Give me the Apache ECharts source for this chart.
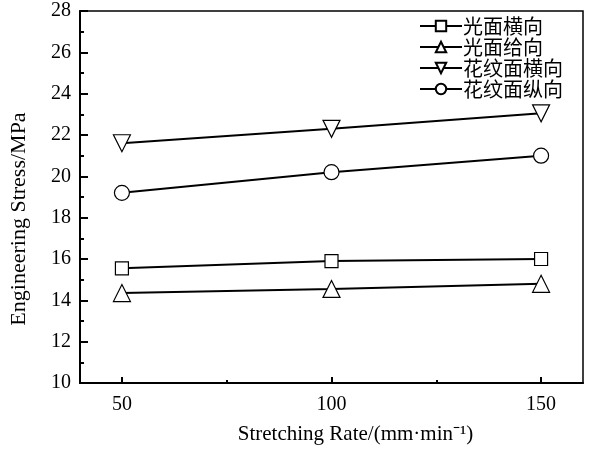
<!DOCTYPE html>
<html><head><meta charset="utf-8">
<script src="https://cdn.jsdelivr.net/npm/echarts@6/dist/echarts.min.js"></script>
<style>html,body{margin:0;padding:0;background:#fff}#c{width:593px;height:450px}</style>
</head><body><div id="c"></div>
<script>
const rates = [50, 100, 150];
const seriesNames = ['光面横向', '光面给向', '花纹面横向', '花纹面纵向'];
const smoothTransverse = [15.55, 15.9, 16.0];
const smoothFeed = [14.35, 14.55, 14.8];
const patternTransverse = [21.6, 22.3, 23.05];
const patternLongitudinal = [19.2, 20.2, 21.0];
const xMajorTicks = [50, 100, 150];
const xMinorTicks = [75, 125];

const serif = '"Liberation Serif", "Times New Roman", serif';
const symbols = ['rect', 'triangle', 'triangle', 'circle'];
const sizes = [13, 17, 17, 15];
const rotates = [0, 0, 180, 0];
const allData = [smoothTransverse, smoothFeed, patternTransverse, patternLongitudinal];

const chart = echarts.init(document.getElementById('c'));
chart.setOption({
  animation: false,
  backgroundColor: '#fff',
  grid: { left: 80, right: 10, top: 11, bottom: 64, show: true, borderColor: '#000', borderWidth: 1.5, backgroundColor: 'transparent' },
  legend: {
    orient: 'vertical', left: 414, top: 11, itemGap: 1, itemWidth: 42, itemHeight: 13,
    textStyle: { fontFamily: '"Noto Sans CJK SC", sans-serif', fontSize: 20, color: '#000', padding: [0,0,0,-4] },
    data: seriesNames
  },
  xAxis: [{
    type: 'value', min: 40, max: 160,
    axisLine: { lineStyle: { color: '#000', width: 2 } },
    axisTick: { inside: true, length: 6, customValues: xMajorTicks, lineStyle: { color: '#000', width: 2 } },
    axisLabel: { customValues: xMajorTicks, fontFamily: serif, fontSize: 20, color: '#000', margin: 12 },
    splitLine: { show: false },
    name: 'Stretching Rate/(mm·min⁻¹)', nameLocation: 'middle', nameGap: 41,
    nameTextStyle: { fontFamily: serif, fontSize: 21, color: '#000', padding: [0, 0, 0, 48] }
  }, {
    type: 'value', min: 40, max: 160, position: 'bottom',
    axisLine: { show: false },
    axisTick: { inside: true, length: 3, customValues: xMinorTicks, lineStyle: { color: '#000', width: 2 } },
    axisLabel: { show: false }, splitLine: { show: false }
  }],
  yAxis: {
    type: 'value', min: 10, max: 28, interval: 2,
    axisLine: { show: true, lineStyle: { color: '#000', width: 2 } },
    axisTick: { inside: true, length: 8, lineStyle: { color: '#000', width: 2 } },
    minorTick: { show: true, splitNumber: 2, length: 4, lineStyle: { color: '#000', width: 2 } },
    axisLabel: { fontFamily: serif, fontSize: 20, color: '#000', margin: 9 },
    splitLine: { show: false },
    name: 'Engineering Stress/MPa', nameLocation: 'middle', nameGap: 50,
    nameTextStyle: { fontFamily: serif, fontSize: 22, color: '#000', padding: [0, 44, 0, 0] }
  },
  series: seriesNames.map((n, i) => ({
    name: n, type: 'line',
    data: rates.map((r, j) => [r, allData[i][j]]),
    symbol: symbols[i], symbolSize: sizes[i], symbolRotate: rotates[i], showAllSymbol: true,
    lineStyle: { color: '#000', width: 2 },
    itemStyle: { color: '#fff', borderColor: '#000', borderWidth: 1.2 },
    z: 3
  }))
});
</script></body></html>
